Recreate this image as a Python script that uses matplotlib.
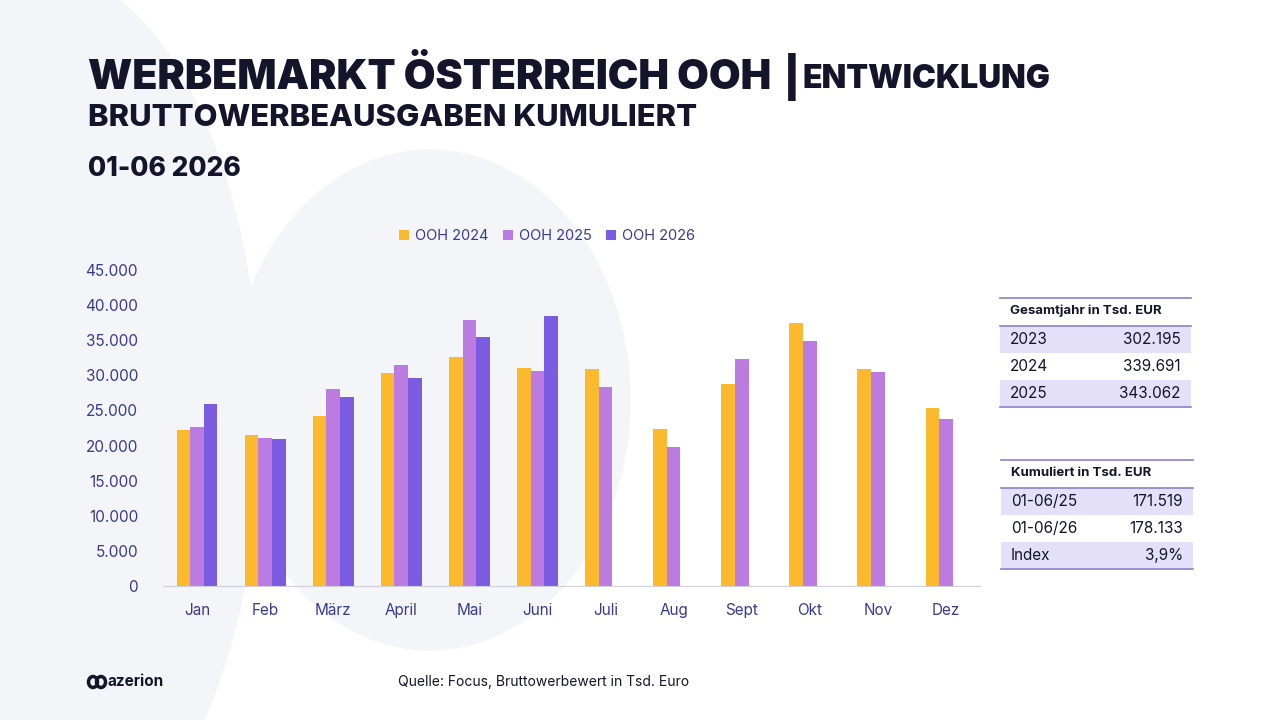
import matplotlib
matplotlib.use("Agg")
import matplotlib.pyplot as plt
import numpy as np
from matplotlib.patches import Rectangle, Ellipse

months = ["Jan","Feb","März","April","Mai","Juni","Juli","Aug","Sept","Okt","Nov","Dez"]
ooh2024 = [22200,21500,24200,30300,32600,31100,30900,22400,28800,37500,30900,25400]
ooh2025 = [22600,21100,28100,31500,37900,30600,28300,19800,32300,34900,30500,23800]
ooh2026 = [25900,20900,26900,29600,35500,38500]
yticks = [0,5000,10000,15000,20000,25000,30000,35000,40000,45000]
ytick_labels = ["0","5.000","10.000","15.000","20.000","25.000","30.000","35.000","40.000","45.000"]
table1_title = "Gesamtjahr in Tsd. EUR"
table1 = [("2023","302.195"),("2024","339.691"),("2025","343.062")]
table2_title = "Kumuliert in Tsd. EUR"
table2 = [("01-06/25","171.519"),("01-06/26","178.133"),("Index","3,9%")]

plt.rcParams['font.family'] = ['Inter','DejaVu Sans']
NAVY = "#14142B"
TICK = "#3A3A8C"
C24, C25, C26 = "#FBB92D", "#BC7BE0", "#7B5BE0"

fig = plt.figure(figsize=(12.8,7.2), dpi=100)
fig.patch.set_facecolor("white")
bg = fig.add_axes([0,0,1,1]); bg.set_xlim(0,1280); bg.set_ylim(720,0); bg.axis('off')
bg.add_patch(Ellipse((40,420),440,900,color="#F4F5F8",zorder=0))
bg.add_patch(Ellipse((430,400),400,500,color="#F4F5F8",zorder=0))

fig.text(88/1280,1-77/720,"WERBEMARKT ÖSTERREICH OOH", fontsize=29.5, fontweight='black', color=NAVY, va='center')
fig.text(784/1280,1-77/720,"|", fontsize=28, fontweight='black', color=NAVY, va='center')
fig.text(803/1280,1-79/720,"ENTWICKLUNG", fontsize=23, fontweight='black', color=NAVY, va='center')
fig.text(88/1280,1-118/720,"BRUTTOWERBEAUSGABEN KUMULIERT", fontsize=22.3, fontweight='heavy', color=NAVY, va='center')
fig.text(88/1280,1-169/720,"01-06 2026", fontsize=19, fontweight='heavy', color=NAVY, va='center')

ax = fig.add_axes([163/1280, 134/720, 817/1280, 316/720])
ax.set_facecolor('none')
x = np.arange(len(months))
w = 0.2
ax.bar(x-w, ooh2024, w, color=C24, label="OOH 2024")
ax.bar(x, ooh2025, w, color=C25, label="OOH 2025")
ax.bar(np.arange(len(ooh2026))+w, ooh2026, w, color=C26, label="OOH 2026")
ax.set_ylim(0,45000); ax.set_xlim(-0.5,11.5)
ax.set_yticks(yticks); ax.set_yticklabels(ytick_labels)
ax.set_xticks(x); ax.set_xticklabels(months)
for s in ['top','right','left']: ax.spines[s].set_visible(False)
ax.spines['bottom'].set_color("#D0D0D8")
ax.tick_params(axis='both', length=0, colors=TICK, labelsize=11)
ax.tick_params(axis='y', pad=18)
ax.tick_params(axis='x', pad=12)
ax.legend(loc='upper center', bbox_to_anchor=(0.47,1.17), ncol=3, frameon=False,
          fontsize=10.5, labelcolor=TICK, handlelength=0.7, handleheight=0.7, columnspacing=1.0, handletextpad=0.4)

ov = fig.add_axes([0,0,1,1]); ov.set_xlim(0,1280); ov.set_ylim(720,0); ov.axis('off')
def table(x0, x1, ytop, title, rows):
    ov.plot([x0,x1],[ytop,ytop],color="#8C80CC",lw=1.2)
    ov.text(x0+10, ytop+13, title, fontsize=9.5, fontweight='bold', color=NAVY, va='center')
    y = ytop+28
    ov.plot([x0,x1],[y,y],color="#8C80CC",lw=1.2)
    for i,(a,b) in enumerate(rows):
        if i%2==0:
            ov.add_patch(Rectangle((x0,y),x1-x0,27,color="#E4E0FA",lw=0))
        ov.text(x0+10,y+13.5,a,fontsize=11,color=NAVY,va='center')
        ov.text(x1-10,y+13.5,b,fontsize=11,color=NAVY,va='center',ha='right')
        y += 27
    ov.plot([x0,x1],[y,y],color="#8C80CC",lw=1.2)
table(1000,1191,298,table1_title,table1)
table(1001,1193,460,table2_title,table2)

ov.add_patch(Ellipse((93,682),9,11,fill=False,ec=NAVY,lw=2.5))
ov.add_patch(Ellipse((101,682),9,11,fill=False,ec=NAVY,lw=2.5))
ov.text(108,682,"azerion",fontsize=11,fontweight='bold',color=NAVY,va='center')
ov.text(398,682,"Quelle: Focus, Bruttowerbewert in Tsd. Euro",fontsize=10,color=NAVY,va='center')

fig.savefig("out.png", dpi=100, facecolor="white")
